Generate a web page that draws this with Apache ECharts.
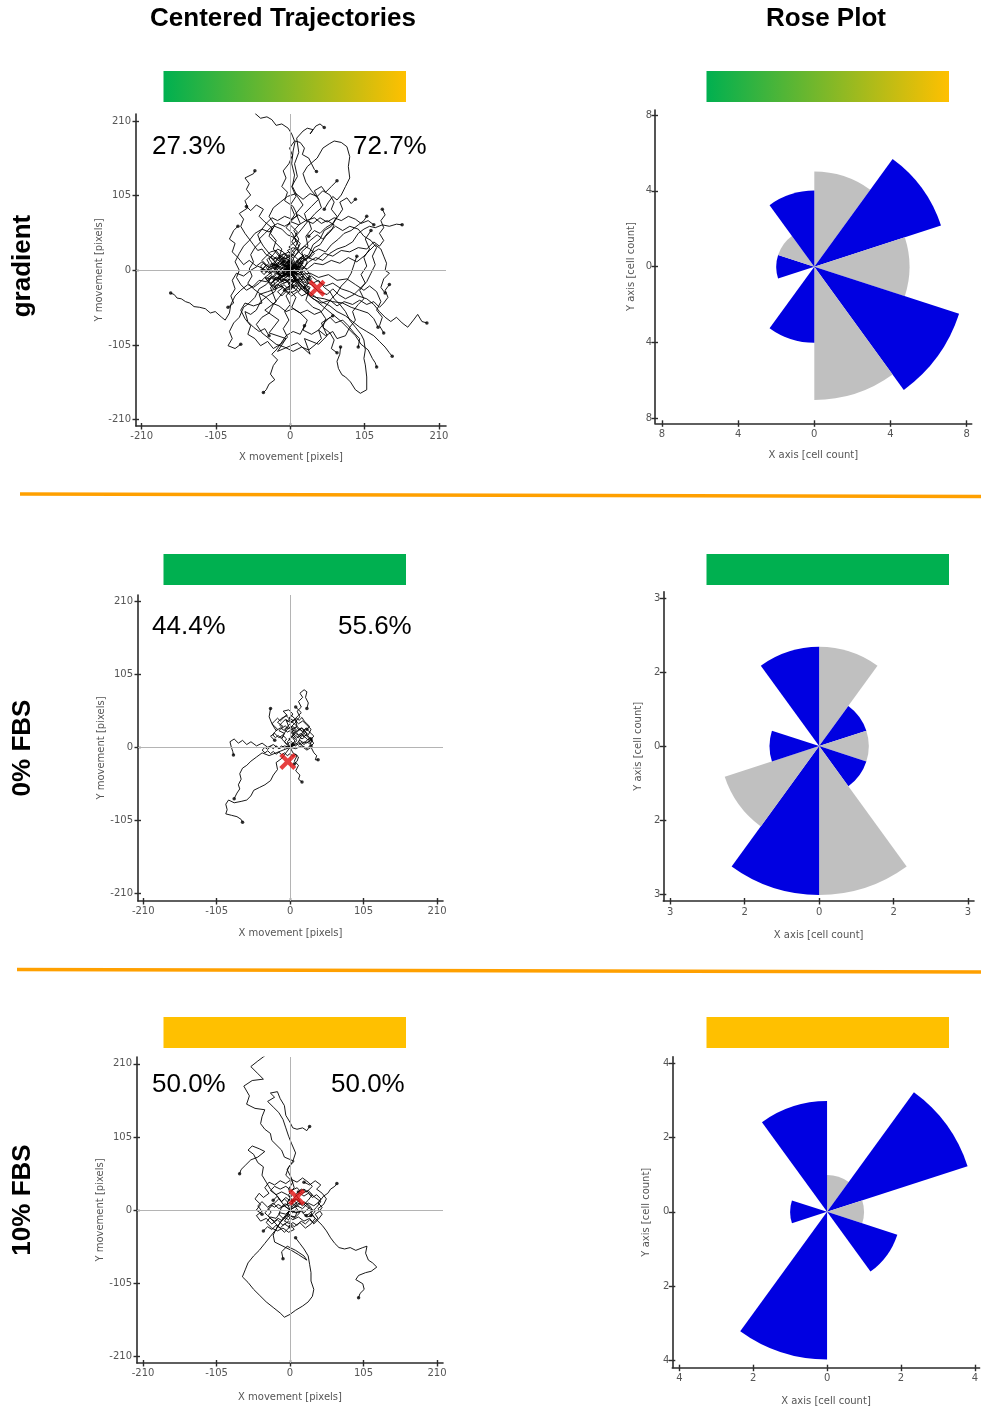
<!DOCTYPE html>
<html><head><meta charset="utf-8">
<script src="https://cdn.jsdelivr.net/npm/echarts@6/dist/echarts.min.js"></script>
<style>html,body{margin:0;padding:0;background:#fff}#c{width:981px;height:1408px}</style>
</head><body><div id="c"></div>
<script>
// ---------------- data ----------------
const COLUMN_TITLES = ['Centered Trajectories', 'Rose Plot'];
const ROW_LABELS = ['gradient', '0% FBS', '10% FBS'];
const PCT_LEFT = ['27.3%', '44.4%', '50.0%'];
const PCT_RIGHT = ['72.7%', '55.6%', '50.0%'];

const TRAJ_TICKS = [-210, -105, 0, 105, 210];
const TRAJ_X_NAME = 'X movement [pixels]';
const TRAJ_Y_NAME = 'Y movement [pixels]';
const ROSE_X_NAME = 'X axis [cell count]';
const ROSE_Y_NAME = 'Y axis [cell count]';

// rose plot: 10 bins of 36 degrees, clockwise from north
const ROSE_BINS = [0, 1, 2, 3, 4, 5, 6, 7, 8, 9];
const ROSE_GRADIENT = [5, 7, 5, 8, 7, 4, 0, 2, 2, 4];
const ROSE_FBS0 = [2, 1, 1, 1, 3, 3, 2, 1, 0, 2];
const ROSE_FBS10 = [1, 4, 1, 2, 0, 4, 0, 1, 0, 3];
const ROSE_TICKS_GRADIENT = [-8, -4, 0, 4, 8];
const ROSE_LABELS_GRADIENT = ['8', '4', '0', '4', '8'];
const ROSE_TICKS_FBS0 = [-3, -1.5, 0, 1.5, 3];
const ROSE_LABELS_FBS0 = ['3', '2', '0', '2', '3'];
const ROSE_TICKS_FBS10 = [-4, -2, 0, 2, 4];
const ROSE_LABELS_FBS10 = ['4', '2', '0', '2', '4'];

// centre of mass markers
const COM_GRADIENT = [37.7, -25.3];
const COM_FBS0 = [-3.3, -20.6];
const COM_FBS10 = [9.6, 18.2];

// trajectories (x, y in pixels)
const TRAJ_GRADIENT = [
 [[0,0],[4,8],[-3,15],[6,24],[-2,33],[8,41],[3,52],[-6,60],[2,70],[10,78],[4,90],[-8,98],[-4,110],[-12,118],[-6,130],[-10,140],[-2,150],[3,162],[-1,172],[6,182],[2,192],[-3,200],[-12,206],[-20,204],[-26,212],[-33,216],[-42,214],[-50,221]],
 [[0,0],[-5,6],[3,14],[-2,22],[6,30],[12,44],[5,56],[14,66],[8,80],[18,92],[10,104],[3,118],[6,134],[2,150],[4,168],[7,182],[14,180],[20,172],[17,163],[26,158],[30,150],[34,142],[37,139]],
 [[0,0],[6,-6],[10,4],[4,16],[12,28],[2,40],[10,54],[-2,66],[6,78],[0,92],[8,104],[2,118],[10,132],[6,150],[12,166],[9,186],[18,196],[24,200],[32,198],[28,192],[36,203],[42,206],[48,201]],
 [[0,0],[8,-4],[14,5],[20,14],[16,26],[25,34],[22,48],[30,58],[26,70],[35,80],[44,88],[40,100],[30,112],[22,124],[18,136],[24,146],[38,158],[46,172],[55,178],[62,182],[72,180],[80,174],[84,160],[82,146],[84,130],[78,118],[72,106],[66,99],[60,104],[54,96],[48,86]],
 [[0,0],[-8,6],[-14,2],[-20,10],[-26,18],[-34,22],[-40,30],[-46,28],[-52,36],[-58,44],[-64,52],[-70,62],[-66,72],[-72,80],[-60,88],[-64,98],[-56,106],[-62,114],[-58,122],[-64,130],[-52,136],[-50,140]],
 [[0,0],[-6,-4],[-12,-8],[-20,-4],[-28,-12],[-36,-10],[-44,-18],[-52,-24],[-60,-20],[-70,-28],[-78,-36],[-84,-48],[-86,-60],[-92,-70],[-97,-66],[-106,-58],[-113,-60],[-120,-54],[-128,-52],[-136,-51],[-142,-46],[-148,-44],[-154,-40],[-160,-39],[-164,-34],[-169,-32]],
 [[0,0],[-10,-6],[-18,-14],[-26,-10],[-34,-20],[-44,-26],[-50,-38],[-58,-46],[-66,-52],[-72,-66],[-80,-74],[-86,-86],[-82,-96],[-88,-106],[-78,-110],[-70,-104]],
 [[0,0],[4,-8],[-4,-16],[2,-26],[-6,-36],[0,-48],[-8,-58],[-2,-70],[-10,-82],[-4,-94],[-14,-104],[-20,-112],[-26,-118],[-18,-126],[-24,-134],[-28,-146],[-22,-154],[-30,-160],[-34,-168],[-38,-172]],
 [[0,0],[8,-6],[16,-2],[24,-10],[32,-18],[40,-14],[48,-24],[56,-30],[62,-40],[70,-48],[78,-58],[84,-70],[92,-80],[100,-90],[104,-98],[106,-112],[104,-124],[106,-133],[108,-150],[108,-168],[99,-173],[92,-168],[85,-157],[78,-150],[73,-147],[68,-138],[66,-128],[70,-118],[71,-108]],
 [[0,0],[10,-4],[20,-12],[30,-8],[40,-16],[50,-22],[60,-18],[72,-26],[84,-30],[96,-36],[108,-40],[118,-48],[126,-58],[134,-66],[142,-72],[150,-66],[158,-74],[166,-80],[174,-70],[180,-62],[186,-72],[193,-74]],
 [[0,0],[8,6],[18,2],[26,12],[36,18],[46,14],[56,24],[66,30],[78,34],[88,40],[96,52],[104,58],[112,62],[120,60],[130,64],[140,62],[150,65],[158,64]],
 [[0,0],[12,6],[24,2],[34,10],[46,8],[58,14],[70,10],[82,18],[94,12],[104,20],[112,28],[120,36],[128,30],[132,20],[136,10],[134,0],[140,-4],[132,-12],[128,-24],[134,-32]],
 [[0,0],[6,-10],[14,-20],[24,-28],[34,-36],[44,-44],[56,-50],[66,-58],[78,-64],[88,-72],[98,-80],[108,-86],[118,-92],[126,-100],[134,-108],[140,-116],[144,-121]],
 [[0,0],[10,-14],[20,-24],[28,-36],[38,-44],[50,-54],[60,-62],[72,-72],[82,-82],[92,-92],[100,-104],[110,-112],[116,-124],[120,-130],[122,-136]],
 [[0,0],[-14,-12],[-28,-24],[-20,-44],[-36,-56],[-16,-70],[-30,-88],[-6,-96],[-18,-114],[10,-102],[28,-118],[20,-96],[40,-104],[52,-92],[44,-74],[60,-64]],
 [[0,0],[6,10],[14,18],[22,14],[30,24],[40,30],[50,26],[58,36],[68,44],[76,52],[86,56],[96,64],[104,70],[108,76]],
 [[0,0],[-4,12],[4,24],[12,34],[6,46],[16,58],[24,68],[20,80],[30,90],[40,100],[34,112],[44,118],[50,110],[58,118],[66,126]],
 [[0,0],[-8,10],[-16,18],[-12,30],[-22,40],[-30,48],[-26,60],[-36,68],[-44,76],[-38,86],[-48,92],[-56,84],[-62,90]],
 [[0,0],[-10,2],[-20,8],[-30,4],[-40,12],[-48,6],[-58,14],[-66,8],[-74,18],[-82,26],[-78,38],[-86,44],[-80,56],[-74,62]],
 [[0,0],[-6,-10],[-16,-18],[-22,-30],[-32,-36],[-42,-44],[-48,-56],[-56,-62],[-64,-58],[-60,-72],[-52,-80],[-44,-86],[-36,-82],[-30,-92]],
 [[0,0],[8,-12],[18,-18],[26,-30],[22,-42],[32,-52],[42,-56],[50,-68],[46,-80],[56,-88],[62,-98],[58,-110],[66,-116]],
 [[0,0],[14,-6],[28,-4],[40,-10],[54,-6],[66,-14],[80,-12],[92,-20],[104,-28],[112,-22],[122,-30],[128,-44],[122,-56],[130,-66],[126,-78],[132,-88]],
 [[0,0],[10,4],[16,16],[26,22],[32,36],[42,44],[48,56],[58,62],[66,74],[74,86],[70,96],[80,102],[86,94],[92,100]],
 [[0,0],[8,-14],[16,-26],[26,-34],[36,-38],[48,-40],[60,-44],[74,-46],[86,-52],[98,-56],[110,-60],[118,-68],[124,-80]],
 [[0,0],[12,10],[24,18],[36,14],[48,24],[60,20],[72,28],[84,26],[96,32],[108,30],[118,40],[126,34],[132,42],[126,52],[132,60],[128,70],[134,78],[130,86]],
 [[0,0],[-12,-4],[-22,4],[-34,0],[-46,6],[-56,0],[-66,-8],[-76,-4],[-82,-14],[-78,-26],[-84,-36],[-80,-46],[-88,-52]],
 [[0,0],[6,8],[14,4],[18,14],[28,20],[34,32],[42,36],[50,48],[58,56],[62,64],[52,70],[44,66],[34,74],[22,70],[12,78],[2,72],[-8,76],[-18,70],[-26,74],[-34,66],[-40,58],[-46,50],[-42,40],[-50,32],[-56,22],[-52,12],[-58,2],[-54,-8],[-60,-18],[-52,-26],[-44,-32],[-34,-38],[-26,-46],[-16,-50],[-6,-58],[4,-54],[14,-60],[24,-56],[34,-62],[44,-58],[52,-48],[58,-40],[66,-32],[72,-22],[80,-14],[86,-4],[90,8],[94,20]],
 [[0,0],[10,-6],[18,-16],[30,-20],[40,-30],[52,-34],[60,-26],[68,-34],[78,-40],[90,-34],[100,-24],[108,-16],[114,-4],[120,8],[116,20],[122,32],[114,42],[104,48],[96,58],[84,62],[74,56],[64,62],[54,54],[46,44],[38,50],[28,42],[20,34],[12,26],[4,18],[-6,22],[-14,14],[-20,4]],
 [[0,0],[-8,-6],[-16,-12],[-26,-8],[-34,-16],[-44,-14],[-52,-22],[-62,-28],[-70,-20],[-76,-10],[-72,0],[-78,12],[-72,24],[-66,34],[-58,42],[-50,52],[-40,58],[-30,54],[-22,62],[-12,58],[-4,50],[6,46],[14,38],[10,28],[18,20],[10,12]],
 [[0,0],[6,-14],[-2,-26],[8,-38],[2,-52],[14,-60],[24,-70],[18,-84],[30,-90],[40,-84],[50,-92],[60,-86],[66,-96],[78,-92],[84,-80],[92,-70],[88,-58],[96,-48],[104,-40],[98,-28],[106,-18],[100,-6],[108,6],[104,18],[112,30],[106,44],[114,56]],
 [[0,0],[-6,12],[-16,20],[-24,30],[-20,42],[-28,52],[-22,64],[-30,76],[-24,88],[-14,96],[-4,104],[8,108],[18,100],[28,108],[38,104],[46,112],[56,106],[62,96],[58,86],[66,76],[60,66],[50,60],[42,52],[34,56],[26,48]],
 [[0,0],[8,-10],[2,-20],[-8,-28],[-16,-38],[-24,-48],[-30,-60],[-40,-66],[-48,-76],[-40,-88],[-30,-96],[-20,-104],[-8,-108],[4,-114],[16,-108],[26,-112],[36,-104],[44,-96],[40,-84],[48,-74],[56,-66],[64,-74],[74,-70],[82,-78],[90,-88],[98,-96],[96,-108]],
 [[0,0],[10,-20],[20,-30],[32,-40],[44,-46],[56,-42],[66,-50],[76,-44],[88,-48],[98,-42],[108,-48],[118,-44],[126,-52],[132,-46],[138,-38],[134,-28],[140,-20]],
 [[0,0],[-10,10],[-20,16],[-30,24],[-38,34],[-44,44],[-36,52],[-28,60],[-18,66],[-8,62],[2,68],[12,64],[22,70],[32,66],[42,74],[52,68],[62,74],[72,70],[82,76],[92,72],[100,66],[110,70],[118,64]],
 [[0,0],[-12,-10],[-24,-14],[-20,-26],[-32,-30],[-44,-34],[-40,-46],[-52,-50],[-64,-46],[-70,-56],[-64,-68],[-56,-78],[-60,-90],[-50,-96],[-42,-106],[-32,-100],[-24,-110],[-14,-104],[-6,-92],[4,-86],[14,-90],[20,-78]],
 [[0,0],[-6,4],[-10,-2],[-4,-8],[2,-4],[-8,6],[-14,10],[-6,14],[-2,8],[-12,2],[-18,-4],[-10,-12],[-4,-16],[-14,-20],[-8,-26],[2,-20],[8,-12],[0,-6],[-6,-10],[-16,-6],[-22,2],[-16,12],[-8,18],[0,12],[6,4]],
 [[0,0],[6,-2],[10,6],[4,12],[-2,18],[-8,24],[-16,20],[-20,12],[-26,6],[-20,-2],[-14,-8],[-22,-14],[-28,-20],[-20,-26],[-12,-22],[-6,-28],[4,-24],[12,-30],[16,-22],[10,-14],[18,-8],[24,-14],[28,-6],[22,2],[14,10]],
 [[0,0],[-4,-6],[-12,-4],[-18,-10],[-12,-16],[-4,-12],[4,-16],[10,-8],[4,-2],[-2,6],[-10,8],[-16,4],[-24,10],[-18,16],[-10,22],[-2,26],[6,20],[12,14],[18,20],[24,12],[20,4],[14,-2],[20,-10],[26,-18],[20,-24]],
 [[0,0],[8,6],[2,10],[-6,4],[-12,12],[-4,18],[-10,26],[-18,30],[-24,22],[-30,16],[-24,8],[-32,2],[-26,-6],[-34,-12],[-28,-18],[-20,-12],[-14,-18],[-8,-12],[-2,-18],[6,-14],[12,-20],[8,-28],[0,-32],[-8,-28]],
 [[0,0],[-2,-10],[6,-16],[14,-12],[20,-20],[28,-24],[24,-32],[16,-36],[10,-30],[2,-36],[-6,-30],[-12,-36],[-18,-30],[-10,-24],[-18,-20],[-24,-26],[-30,-18],[-36,-10],[-28,-4],[-34,4],[-26,10],[-18,6]],
 [[0,0],[4,8],[12,4],[18,10],[12,16],[20,22],[28,18],[34,24],[28,30],[20,34],[12,28],[4,32],[-4,28],[2,22],[-6,16],[-14,20],[-20,28],[-28,26],[-34,20],[-40,14],[-34,8],[-40,0]],
 [[0,0],[-3,3],[-6,0],[-9,4],[-5,8],[-2,5],[1,9],[-3,12],[-7,10],[-11,14],[-14,9],[-10,5],[-14,1],[-18,-2],[-15,-6],[-11,-3],[-7,-7],[-3,-4],[0,-8],[4,-5],[7,-9],[10,-5],[6,-2],[9,2],[12,6],[8,9],[4,6],[1,3]],
 [[0,0],[3,-4],[-1,-7],[-5,-5],[-8,-9],[-12,-6],[-16,-10],[-13,-14],[-9,-12],[-5,-16],[-2,-12],[2,-15],[5,-11],[9,-14],[12,-10],[16,-13],[19,-8],[15,-5],[18,-1],[14,2],[10,-1],[7,3],[3,1],[-1,5],[-4,2]],
 [[0,0],[-4,-2],[-8,2],[-12,-1],[-16,3],[-20,0],[-24,4],[-21,8],[-17,6],[-13,10],[-9,7],[-5,11],[-1,8],[3,12],[6,8],[10,11],[13,7],[9,4],[12,0],[8,-3],[4,-1],[0,-4],[-4,-7],[-8,-4],[-12,-8],[-16,-5]],
 [[0,0],[5,3],[2,7],[-2,4],[-6,8],[-3,12],[1,15],[-3,19],[-8,16],[-12,20],[-16,16],[-20,19],[-24,14],[-20,10],[-24,6],[-28,2],[-24,-2],[-20,-6],[-24,-10],[-20,-14],[-16,-10],[-12,-14],[-8,-18],[-4,-14],[0,-18],[4,-22]],
 [[0,0],[2,-6],[6,-10],[2,-14],[-2,-20],[2,-24],[6,-20],[10,-24],[14,-28],[18,-24],[22,-30],[26,-26],[22,-20],[26,-16],[30,-12],[26,-8],[22,-4],[18,0],[14,-4],[10,0],[6,4],[2,8],[-2,12]],
 [[0,0],[-5,2],[-9,-3],[-14,1],[-19,-4],[-24,0],[-29,-5],[-33,-1],[-37,-6],[-41,-2],[-38,3],[-34,7],[-30,4],[-26,9],[-22,6],[-18,11],[-14,8],[-10,13],[-6,10],[-2,15],[2,12],[-1,7],[3,3],[7,6],[11,2]],
 [[0,0],[3,-5],[-2,-9],[-6,-5],[-11,-8],[-15,-13],[-19,-9],[-23,-14],[-27,-10],[-31,-15],[-27,-19],[-22,-23],[-18,-19],[-13,-24],[-9,-20],[-4,-25],[0,-21],[5,-25],[9,-21],[6,-16],[10,-12],[14,-16],[18,-12],[22,-16],[26,-12]],
 [[0,0],[2,5],[-3,8],[-7,5],[-11,9],[-8,13],[-12,17],[-17,14],[-21,18],[-25,15],[-29,19],[-33,15],[-30,10],[-34,6],[-38,10],[-42,6],[-38,1],[-34,-3],[-30,1],[-26,-3],[-22,1],[-18,-3],[-14,1],[-10,-3],[-6,1]]
];

const TRAJ_FBS0 = [
 [[0,0],[4,6],[-2,12],[6,18],[2,26],[10,30],[8,38],[14,44],[10,52],[16,58],[12,66],[18,72],[14,78],[20,83],[24,80],[22,72],[26,64],[24,56]],
 [[0,0],[-6,6],[-12,12],[-8,20],[-16,24],[-10,30],[-18,36],[-12,42],[-4,46],[-10,52],[-2,54],[4,48],[-2,40],[6,34],[0,28],[8,22],[2,16],[10,10],[4,4]],
 [[0,0],[8,4],[14,10],[20,6],[26,12],[30,4],[24,-2],[18,2],[12,8],[16,16],[22,22],[16,28],[10,24],[4,30],[-4,26],[-10,18],[-16,14],[-22,20],[-28,16],[-22,10]],
 [[0,0],[-8,2],[-16,-2],[-24,4],[-32,0],[-40,6],[-48,2],[-56,8],[-62,4],[-68,10],[-74,6],[-80,12],[-86,8],[-84,0],[-82,-6],[-81,-11]],
 [[0,0],[-6,-8],[-12,-16],[-20,-22],[-18,-32],[-24,-40],[-28,-48],[-36,-54],[-44,-58],[-52,-62],[-56,-70],[-62,-76],[-70,-78],[-80,-80],[-88,-76],[-92,-82],[-90,-90],[-92,-96],[-84,-98],[-76,-100],[-70,-104],[-68,-108]],
 [[0,0],[-10,-4],[-20,-8],[-30,-12],[-40,-8],[-48,-14],[-56,-20],[-62,-26],[-68,-30],[-72,-38],[-70,-46],[-74,-54],[-72,-60],[-76,-66],[-80,-74]],
 [[0,0],[8,-2],[16,2],[24,-4],[30,0],[34,-8],[38,-12],[36,-18],[40,-18]],
 [[0,0],[4,-8],[10,-12],[6,-20],[12,-26],[8,-34],[14,-40],[12,-46],[17,-50]],
 [[0,0],[-4,8],[2,14],[8,20],[14,16],[20,24],[26,18],[30,26],[24,32],[18,38],[12,34],[6,40],[0,36],[-6,40],[-2,30],[-8,24],[-14,28],[-20,24],[-26,34],[-30,44],[-28,56]],
 [[0,0],[3,4],[-1,7],[-5,4],[-8,8],[-5,12],[-9,16],[-13,13],[-17,17],[-21,14],[-25,18],[-22,22],[-18,26],[-22,30],[-26,34],[-22,38],[-18,42],[-14,38],[-10,42],[-6,46],[-2,42],[2,46],[6,42],[10,38],[6,34],[10,30],[14,26],[18,22],[22,18],[26,14],[30,10],[34,6],[30,2]],
 [[0,0],[-4,2],[-8,-1],[-12,2],[-16,-1],[-20,2],[-24,-2],[-28,1],[-32,-3],[-36,0],[-40,-4],[-36,-8],[-32,-5],[-28,-9],[-24,-6],[-20,-10],[-16,-7],[-12,-11],[-8,-8],[-4,-12],[0,-9],[4,-13],[8,-10],[12,-14],[10,-20],[6,-24]],
 [[0,0],[4,4],[8,2],[12,6],[16,4],[20,8],[24,6],[28,10],[32,8],[28,14],[24,18],[20,16],[16,20],[12,18],[8,22],[4,20],[0,24],[-4,22],[-8,26],[-4,30],[0,34],[4,38],[8,42],[12,46],[16,50],[12,54],[8,58]],
 [[0,0],[3,5],[7,9],[4,13],[8,17],[12,14],[16,18],[20,15],[24,19],[21,24],[17,28],[13,25],[9,29],[5,26],[1,30],[-3,27],[-7,31],[-11,28],[-15,32],[-11,36],[-7,40],[-3,37],[1,41],[5,38],[9,42],[13,39],[17,43],[20,38],[24,34],[28,30],[24,26]],
 [[0,0],[4,2],[8,6],[12,3],[16,7],[20,4],[24,8],[28,5],[32,9],[29,14],[25,11],[21,15],[17,12],[13,16],[9,13],[5,17],[2,21],[6,25],[10,22],[14,26],[18,23],[22,27],[26,24],[30,20],[34,16],[30,12]]
];

const TRAJ_FBS10 = [
 [[0,0],[-4,10],[2,20],[-2,30],[4,40],[-6,50],[-2,62],[6,70],[-8,76],[-12,86],[-20,94],[-26,100],[-28,110],[-36,116],[-42,124],[-40,134],[-36,144],[-50,146],[-62,152],[-58,164],[-66,178],[-54,186],[-38,188],[-46,196],[-56,206],[-46,214],[-38,220],[-30,226],[-24,232]],
 [[0,0],[4,10],[-2,22],[6,32],[2,46],[-4,58],[4,70],[8,82],[2,96],[-2,106],[-6,118],[-10,130],[-16,140],[-24,148],[-32,156],[-22,162],[-28,168],[-18,170],[-14,160],[-8,150],[-6,136],[0,126],[4,118],[10,116],[18,118],[24,114],[28,120]],
 [[0,0],[-8,6],[-14,14],[-20,22],[-28,30],[-34,40],[-40,50],[-38,62],[-46,68],[-52,80],[-60,86],[-54,92],[-44,88],[-36,84],[-46,76],[-56,72],[-64,64],[-70,58],[-72,52]],
 [[0,0],[8,-4],[16,-2],[24,-10],[32,-8],[40,-16],[46,-22],[52,-30],[58,-40],[64,-48],[70,-54],[78,-56],[86,-54],[94,-58],[104,-54],[110,-52],[108,-62],[112,-72],[118,-76],[124,-82],[116,-88],[108,-90],[98,-94],[94,-100],[104,-106],[106,-114],[100,-120],[98,-126]],
 [[0,0],[10,6],[18,2],[26,10],[34,6],[42,12],[48,20],[54,24],[58,30],[64,34],[67,38]],
 [[0,0],[-6,-10],[-14,-18],[-20,-28],[-28,-38],[-36,-48],[-44,-58],[-52,-66],[-60,-76],[-64,-86],[-68,-96],[-60,-104],[-52,-114],[-44,-122],[-34,-132],[-24,-140],[-14,-148],[-8,-154],[0,-150],[8,-144],[18,-138],[26,-132],[32,-124],[34,-114],[30,-102],[30,-90],[28,-78],[26,-66],[20,-56],[14,-48],[8,-40]],
 [[0,0],[-10,-12],[-18,-24],[-24,-36],[-22,-46],[-10,-52],[2,-58],[12,-64],[24,-72],[20,-66],[8,-58],[-4,-52],[-12,-60],[-10,-70]],
 [[0,0],[-8,6],[-16,2],[-24,10],[-32,4],[-40,12],[-46,6],[-40,-2],[-48,-8],[-42,-16],[-34,-12],[-26,-20],[-18,-14],[-10,-22],[-2,-16],[6,-24],[14,-18],[22,-26],[30,-20],[36,-12],[30,-4],[38,4],[44,12],[36,18],[28,24],[20,30],[12,26]],
 [[0,0],[6,8],[14,14],[8,22],[16,30],[24,26],[32,34],[26,40],[18,46],[10,40],[2,44],[-6,38],[-14,42],[-22,36],[-30,40],[-36,32],[-30,24],[-38,18],[-44,24],[-50,16],[-42,8],[-48,0],[-40,-6]],
 [[0,0],[-4,-8],[4,-14],[12,-10],[20,-16],[28,-12],[34,-20],[40,-14],[46,-6],[40,2],[48,8],[52,16],[46,24],[38,30],[44,36],[36,42],[28,36],[20,40]],
 [[0,0],[-6,-6],[-14,-4],[-20,-12],[-28,-10],[-34,-18],[-26,-26],[-18,-30],[-10,-26],[-2,-32],[6,-28],[0,-20],[-8,-16],[-2,-8],[8,-10],[14,-4],[8,4],[16,10],[10,16],[2,12],[-6,18],[-12,12],[-18,20],[-24,14]],
 [[0,0],[10,-4],[6,-12],[-2,-6],[-10,-12],[-16,-6],[-12,4],[-4,8],[4,14],[-4,22],[-12,26],[-20,22],[-28,28],[-22,34],[-14,30],[-6,34],[2,28],[10,32],[18,24],[26,28],[32,22],[26,14],[20,8],[28,2],[36,-2],[30,-8]],
 [[0,0],[4,-4],[8,0],[12,-4],[16,0],[20,-4],[24,0],[28,4],[24,8],[20,12],[16,8],[12,12],[8,16],[4,12],[0,16],[-4,12],[-8,16],[-12,12],[-16,16],[-20,12],[-24,8],[-28,4],[-32,0],[-36,-4],[-32,-8],[-28,-12],[-24,-16],[-20,-20],[-16,-24],[-12,-28],[-8,-32],[-4,-28],[0,-24]],
 [[0,0],[-3,-5],[2,-9],[-2,-14],[-7,-11],[-12,-15],[-17,-12],[-22,-16],[-27,-13],[-31,-8],[-27,-3],[-31,2],[-27,7],[-22,4],[-17,8],[-12,5],[-7,9],[-2,6],[3,10],[8,6],[13,10],[18,6],[23,10],[28,6],[32,0],[28,-5],[23,-8]],
 [[0,0],[6,4],[10,10],[4,14],[8,20],[14,24],[20,20],[26,24],[32,18],[38,22],[44,16],[40,10],[46,4],[42,-2],[36,-6],[40,-12],[34,-18],[28,-14],[22,-20],[16,-16],[10,-22],[4,-18],[-2,-24],[-8,-20],[-14,-26],[-20,-22],[-26,-28],[-32,-24],[-38,-30]]
];

// ---------------- layout ----------------
const TRAJ_GRIDS = [
  {left:136, top:114, width:310, height:312, x:[-218,220], y:[-219,220], xGap:26, yGap:28},
  {left:138, top:595, width:305, height:306, x:[-217.5,218.6], y:[-221.6,219.6], xGap:27, yGap:29},
  {left:137, top:1057, width:306, height:306, x:[-218.6,218.6], y:[-219.8,219.8], xGap:29, yGap:29}
];
const ROSE_GRIDS = [
  {left:655, top:110, width:316.7, height:313.3, x:[-8.37,8.27], y:[-8.25,8.26], xGap:27, yGap:19},
  {left:663.3, top:591.7, width:310.7, height:309.3, x:[-3.14,3.12], y:[-3.14,3.13], xGap:29, yGap:20},
  {left:672.3, top:1056.7, width:308.7, height:311, x:[-4.19,4.13], y:[-4.2,4.18], xGap:29, yGap:21}
];
const TRAJ_SETS = [TRAJ_GRADIENT, TRAJ_FBS0, TRAJ_FBS10];
const COMS = [COM_GRADIENT, COM_FBS0, COM_FBS10];
const ROSE_SETS = [ROSE_GRADIENT, ROSE_FBS0, ROSE_FBS10];
const ROSE_TICKS = [ROSE_TICKS_GRADIENT, ROSE_TICKS_FBS0, ROSE_TICKS_FBS10];
const ROSE_LABELS = [ROSE_LABELS_GRADIENT, ROSE_LABELS_FBS0, ROSE_LABELS_FBS10];

const AX_FONT = '"DejaVu Sans", sans-serif';
const AX_COLOR = '#555';
const BLUE = '#0000e1';
const GREY = '#c0c0c0';

const grid = [], xAxis = [], yAxis = [], series = [];

function addAxes(g, ticks, labelFn, xName, yName, xMargin, yMargin) {
  const gi = grid.length;
  grid.push({left:g.left, top:g.top, width:g.width, height:g.height, containLabel:false});
  const base = (min, max, name, gap, margin) => ({
    type:'value', gridIndex:gi, min:min, max:max,
    name:name, nameLocation:'middle', nameGap:gap,
    nameTextStyle:{fontFamily:AX_FONT, fontSize:10, color:AX_COLOR},
    axisLine:{show:true, onZero:false, lineStyle:{color:'#2b2b2b', width:1.6}},
    axisTick:{show:true, length:3.5, customValues:ticks, lineStyle:{color:'#2b2b2b', width:1.4}},
    axisLabel:{show:true, customValues:ticks, margin:margin, fontFamily:AX_FONT, fontSize:10, color:AX_COLOR, formatter:labelFn},
    splitLine:{show:false}
  });
  const inner = (min, max) => ({
    type:'value', gridIndex:gi, min:min, max:max,
    axisLine:{show:false, onZero:false}, axisLabel:{show:false}, splitLine:{show:false},
    axisTick:{show:true, inside:true, length:3, customValues:ticks, lineStyle:{color:'#2b2b2b', width:1.4}}
  });
  const xi = xAxis.length, yi = yAxis.length;
  xAxis.push(Object.assign(base(g.x[0], g.x[1], xName, g.xGap, xMargin), {position:'bottom'}));
  xAxis.push(Object.assign(inner(g.x[0], g.x[1]), {position:'bottom'}));
  yAxis.push(Object.assign(base(g.y[0], g.y[1], yName, g.yGap, yMargin), {position:'left'}));
  yAxis.push(Object.assign(inner(g.y[0], g.y[1]), {position:'left'}));
  return {xi, yi};
}

const X_SHAPE = 'path://M3.5,0 L10,6.5 L16.5,0 L20,3.5 L13.5,10 L20,16.5 L16.5,20 L10,13.5 L3.5,20 L0,16.5 L6.5,10 L0,3.5 Z';

for (let r = 0; r < 3; r++) {
  // trajectory panel
  const a = addAxes(TRAJ_GRIDS[r], TRAJ_TICKS, v => String(v), TRAJ_X_NAME, TRAJ_Y_NAME, 5, 5);
  series.push({
    type:'line', xAxisIndex:a.xi, yAxisIndex:a.yi, data:[], silent:true, z:1,
    markLine:{silent:true, symbol:'none', animation:false, label:{show:false},
      lineStyle:{color:'#b4b4b4', width:1, type:'solid'},
      data:[{xAxis:0}, {yAxis:0}]}
  });
  TRAJ_SETS[r].forEach(tr => {
    series.push({type:'line', xAxisIndex:a.xi, yAxisIndex:a.yi, data:tr, showSymbol:false, symbol:'none',
      lineStyle:{color:'#000', width:0.9}, z:2, silent:true, animation:false});
  });
  series.push({type:'scatter', xAxisIndex:a.xi, yAxisIndex:a.yi, symbolSize:3.5, z:3, silent:true,
    itemStyle:{color:'#000'}, data:TRAJ_SETS[r].map(tr => tr[tr.length - 1])});
  series.push({type:'scatter', xAxisIndex:a.xi, yAxisIndex:a.yi, symbol:X_SHAPE, symbolSize:17, z:5, silent:true,
    itemStyle:{color:'#e01010'}, data:[COMS[r]]});

  // rose panel
  const ticks = ROSE_TICKS[r], labels = ROSE_LABELS[r];
  const b = addAxes(ROSE_GRIDS[r], ticks, v => labels[ticks.indexOf(v)] ?? '', ROSE_X_NAME, ROSE_Y_NAME, 6, 3);
  const step = 360 / ROSE_BINS.length;
  series.push({
    type:'custom', xAxisIndex:b.xi, yAxisIndex:b.yi, silent:true, z:2,
    data:ROSE_BINS.map((bin, i) => [bin, ROSE_SETS[r][i]]),
    renderItem:(params, api) => {
      const i = api.value(0), v = api.value(1);
      if (!v) return null;
      const c = api.coord([0, 0]);
      const rad = api.size([v, 0])[0];
      return {type:'sector', shape:{cx:c[0], cy:c[1], r0:0, r:rad,
        startAngle:(i * step - 90) * Math.PI / 180, endAngle:((i + 1) * step - 90) * Math.PI / 180, clockwise:true},
        style:{fill: i % 2 === 0 ? GREY : BLUE}};
    }
  });
}

// ---------------- decorations ----------------
const gradFill = () => new echarts.graphic.LinearGradient(0, 0, 1, 0, [
  {offset:0, color:'#00b050'}, {offset:1, color:'#ffc000'}]);
const BAR_FILLS = [gradFill, () => '#00b050', () => '#ffc000'];
const BAR_TOPS = [71, 554, 1017];
const PCT_Y = [147, 627, 1085];
const PCT_RIGHT_X = [353, 338, 331];
const ROW_Y = [266, 748, 1200];

const graphic = [];
const txt = (x, y, text, font, extra) => Object.assign({type:'text', x:x, y:y, silent:true, z:10,
  style:{text:text, font:font, fill:'#000', align:'center', verticalAlign:'middle'}}, extra || {});

graphic.push(txt(283, 19, COLUMN_TITLES[0], 'bold 26px "Liberation Sans", Arial, sans-serif'));
graphic.push(txt(826, 19, COLUMN_TITLES[1], 'bold 26px "Liberation Sans", Arial, sans-serif'));
// partially hidden subtitle behind row-2 rose bar
graphic.push({type:'text', x:826, y:561, z:9, silent:true,
  style:{text:'Rose plot', font:'14px "DejaVu Sans", sans-serif', fill:'#444', align:'center', verticalAlign:'middle'}});
for (let r = 0; r < 3; r++) {
  graphic.push(txt(23, ROW_Y[r], ROW_LABELS[r], 'bold 26px "Liberation Sans", Arial, sans-serif', {rotation:Math.PI / 2}));
  graphic.push({type:'rect', z:10, silent:true, shape:{x:163.5, y:BAR_TOPS[r], width:242.5, height:31}, style:{fill:BAR_FILLS[r]()}});
  graphic.push({type:'rect', z:10, silent:true, shape:{x:706.5, y:BAR_TOPS[r], width:242.5, height:31}, style:{fill:BAR_FILLS[r]()}});
  const f = '26px "Liberation Sans", Arial, sans-serif';
  graphic.push({type:'text', x:152, y:PCT_Y[r], z:10, silent:true, style:{text:PCT_LEFT[r], font:f, fill:'#000', align:'left', verticalAlign:'middle'}});
  graphic.push({type:'text', x:PCT_RIGHT_X[r], y:PCT_Y[r], z:10, silent:true, style:{text:PCT_RIGHT[r], font:f, fill:'#000', align:'left', verticalAlign:'middle'}});
}
graphic.push({type:'line', z:10, silent:true, shape:{x1:20, y1:494, x2:981, y2:496.5}, style:{stroke:'#ffa000', lineWidth:3.5}});
graphic.push({type:'line', z:10, silent:true, shape:{x1:17, y1:969.5, x2:981, y2:972}, style:{stroke:'#ffa000', lineWidth:3.5}});

const chart = echarts.init(document.getElementById('c'), null, {renderer:'canvas', width:981, height:1408});
chart.setOption({
  animation:false,
  backgroundColor:'#ffffff',
  grid:grid, xAxis:xAxis, yAxis:yAxis, series:series, graphic:graphic
});
</script></body></html>
